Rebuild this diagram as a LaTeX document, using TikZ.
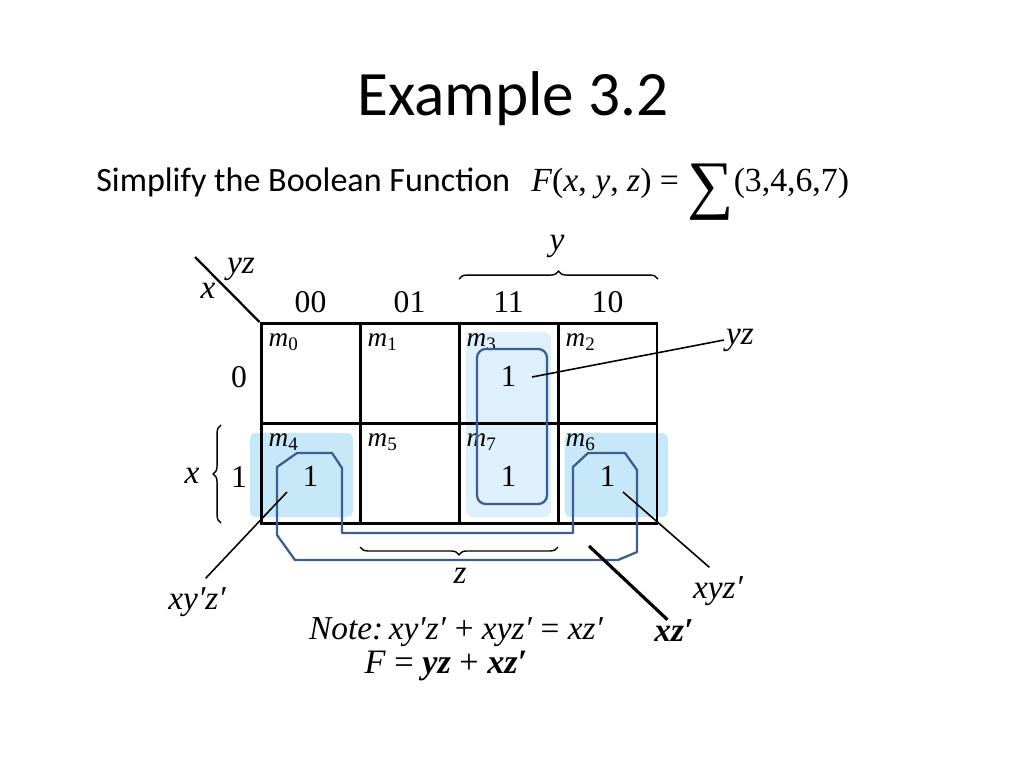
\documentclass[tikz,border=0pt]{standalone}
\usepackage{fontspec}
\setmainfont{Carlito}
\newfontfamily\tms{Liberation Serif}
\usepackage{tikz}
\usetikzlibrary{positioning}
\usetikzlibrary{decorations.pathreplacing}
\definecolor{loopblue}{RGB}{60,95,145}
\definecolor{shadelight}{RGB}{222,240,251}
\definecolor{shadedark}{RGB}{198,232,249}
\newcommand*{\mt}[1]{\textit{m}\textsubscript{#1}}
\tikzset{
    cell/.style = {draw,line width=1.7pt,minimum width=1.98cm,minimum height=2cm,inner sep=0},
    mlab/.style = {font=\tms\fontsize{15.5}{15.5}\selectfont,inner sep=0},
    one/.style = {font=\tms\fontsize{17.5}{17.5}\selectfont,inner sep=1pt},
    hdr/.style = {font=\tms\fontsize{18}{18}\selectfont},
    term/.style = {font=\tms\itshape\fontsize{19}{19}\selectfont,inner sep=1pt},
    pointer/.style = {line width=0.9pt},
    group/.style = {draw=loopblue,line width=1.3pt,rounded corners=5pt},
    kbrace/.style = {decorate,decoration={brace,amplitude=4.5pt},line width=0.8pt}
}

\begin{document}
\begin{tikzpicture}[x=0.02cm,y=-0.02cm]
    \fill[white] (0,0) rectangle (1024,768);
    \useasboundingbox (0,0) rectangle (1024,768);
    % Heading
    \node[anchor=base,font=\fontsize{36}{36}\selectfont,inner sep=0] (title) at (513,115) {Example 3.2};
    \node[anchor=base west,font=\fontsize{19.4}{19.4}\selectfont,inner sep=0] (task) at (96,191) {Simplify the Boolean Function};
    \node[anchor=base west,font=\tms\fontsize{19.2}{19.2}\selectfont,inner sep=0] (func) at (531,191)
        {\textit{F}(\textit{x}, \textit{y}, \textit{z}) = \raisebox{-9pt}{\fontsize{37}{37}\selectfont ∑}(3,4,6,7)};
    % Shading
    \fill[shadelight,rounded corners=4pt] (466,332) rectangle (551,517);
    \fill[shadedark,rounded corners=3pt] (250,433) rectangle (353,517);
    \fill[shadedark,rounded corners=3pt] (565,433) rectangle (668,517);
    % Cells
    \foreach \col/\code/\gc in {0/0/00,1/1/01,2/3/11,3/2/10} {
        \node[hdr] (h\code) at (310.5+99*\col,302) {\gc};
        \foreach \row in {0,1} {
            \pgfmathtruncatemacro\mnum{4*\row+\code}
            \node[cell] (c\mnum) at (310.5+99*\col,373.5+100*\row) {};
            \node[mlab,below right=6.5pt and 5pt of c\mnum.north west] (m\mnum) {\mt{\mnum}};
        }
    }
    \foreach \m in {3,4,6,7}
        \node[one,yshift=-1.5pt] (o\m) at (c\m) {1};
    % Row headers and corner
    \node[hdr] (r0) at (239,377) {0};
    \node[hdr] (r1) at (239,477) {1};
    \coordinate (diag) at (195,257);
    \draw[line width=1.3pt] (diag) -- (c0.north west);
    \node[term] (vyz) at (241,269) {yz};
    \node[term] (vx) at (208,291) {x};
    % Braces
    \draw[kbrace] (459,279) -- (658,279);
    \node[term] (ly) at (557,246) {y};
    \draw[kbrace] (221,523) -- (221,425);
    \node[term] (lx) at (192,476) {x};
    \draw[kbrace] (558,547) -- (360,547);
    \node[term] (lz) at (460,576) {z};
    % Groups
    \draw[group] (477,349) rectangle (547,504);
    \draw[loopblue,line width=1.3pt,line join=round]
        (277,467) -- (297,453) -- (332,453) -- (342,468) -- (342,533)
        -- (573,533) -- (573,467) -- (588,453) -- (625,453) -- (637,470)
        -- (637,552) -- (618,560) -- (295,560) -- (277,535) -- cycle;
    % Pointers
    \coordinate (t3) at (532,377);
    \coordinate (t4) at (287,492);
    \coordinate (t6) at (623,492);
    \coordinate (txz) at (589,546);
    \node[term] (pyz) at (740,340) {yz};
    \node[term,inner sep=5pt] (pxyz) at (718,591) {xyz′};
    \node[term,inner sep=5pt] (pxy) at (197,602) {xy′z′};
    \node[term,inner sep=0,font=\tms\bfseries\itshape\fontsize{19}{19}\selectfont] (pxz) at (674,631) {xz′};
    \draw[pointer] (t3) -- (pyz.west);
    \draw[pointer] (t6) -- (pxyz.110);
    \draw[pointer] (t4) -- (pxy.70);
    \draw[line width=1.8pt] (txz) -- (pxz.120);
    % Result
    \node[term,font=\tms\itshape\fontsize{19}{19}\selectfont] (note) at (456,632) {Note:\,xy′z′ \textup{+} xyz′ \textup{=} xz′};
    \node[hdr,font=\tms\fontsize{19.5}{19.5}\selectfont] (res) at (446,666)
        {\textit{F} = \textbf{\textit{yz}} + \textbf{\textit{xz′}}};
\end{tikzpicture}
\end{document}
